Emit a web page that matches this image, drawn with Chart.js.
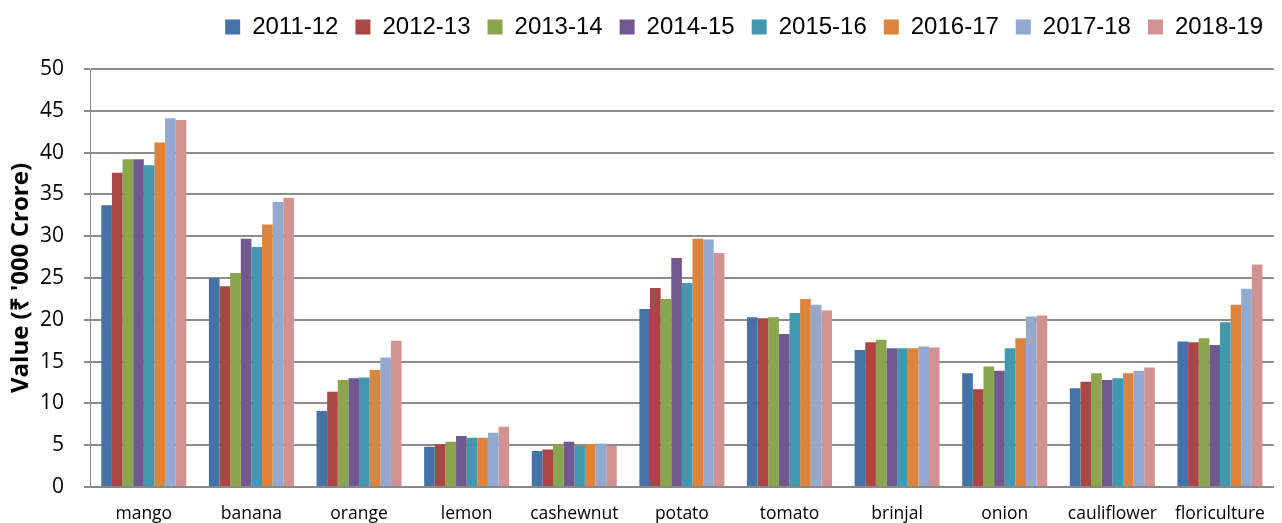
<!DOCTYPE html>
<html>
<head>
<meta charset="utf-8">
<script src="https://cdn.jsdelivr.net/npm/chart.js@4.4.1/dist/chart.umd.min.js"></script>
<style>
  html, body { margin: 0; padding: 0; background: #fff; }
  #wrap { width: 1282px; height: 523px; }
</style>
</head>
<body>
<div id="wrap"><canvas id="chart_1" width="1282" height="523"></canvas></div>
<script>
// categories and years
const crops = ['mango', 'banana', 'orange', 'lemon', 'cashewnut', 'potato', 'tomato', 'brinjal', 'onion', 'cauliflower', 'floriculture'];
const years = ['2011-12', '2012-13', '2013-14', '2014-15', '2015-16', '2016-17', '2017-18', '2018-19'];

// values, '000 crore, one array per year
const v2011 = [33.7, 25.0, 9.1, 4.8, 4.3, 21.3, 20.3, 16.4, 13.6, 11.8, 17.4];
const v2012 = [37.6, 24.0, 11.4, 5.1, 4.5, 23.8, 20.2, 17.3, 11.7, 12.6, 17.3];
const v2013 = [39.2, 25.6, 12.8, 5.4, 5.1, 22.5, 20.3, 17.6, 14.4, 13.6, 17.8];
const v2014 = [39.2, 29.7, 13.0, 6.1, 5.4, 27.4, 18.3, 16.6, 13.9, 12.8, 17.0];
const v2015 = [38.5, 28.7, 13.1, 5.9, 4.9, 24.4, 20.8, 16.6, 16.6, 13.0, 19.7];
const v2016 = [41.2, 31.4, 14.0, 5.9, 5.1, 29.7, 22.5, 16.6, 17.8, 13.6, 21.8];
const v2017 = [44.1, 34.1, 15.5, 6.5, 5.2, 29.6, 21.8, 16.8, 20.4, 13.9, 23.7];
const v2018 = [43.9, 34.6, 17.5, 7.2, 4.9, 28.0, 21.1, 16.7, 20.5, 14.3, 26.6];

const colors = ['#4572A7', '#AA4643', '#89A54E', '#71588F', '#4198AF', '#DB843D', '#93A9CF', '#D19392'];
const series = [v2011, v2012, v2013, v2014, v2015, v2016, v2017, v2018];

const data_1 = {
  labels: crops,
  datasets: series.map((vals, i) => ({
    label: years[i],
    data: vals,
    backgroundColor: colors[i],
    borderWidth: 0,
    barPercentage: 1.0,
    categoryPercentage: 0.79
  }))
};

// extra room under the legend
const legendGap = {
  id: 'legendGap',
  beforeInit(chart) {
    const fit = chart.legend.fit;
    chart.legend.fit = function () {
      fit.bind(chart.legend)();
      this.height += 20;
    };
  }
};

const config_1 = {
  type: 'bar',
  data: data_1,
  plugins: [legendGap],
  options: {
    responsive: false,
    animation: false,
    layout: { padding: { left: 6, right: 2, top: -2, bottom: 0 } },
    plugins: {
      legend: {
        position: 'top',
        align: 'end',
        labels: {
          boxWidth: 15,
          boxHeight: 15,
          padding: 17,
          color: '#000',
          font: { family: "'Liberation Sans', sans-serif", size: 24 }
        }
      },
      tooltip: { enabled: false }
    },
    scales: {
      x: {
        afterFit: (s) => { s.height = 36; },
        grid: { display: false, drawTicks: false },
        border: { color: '#888', width: 2 },
        ticks: {
          color: '#000',
          padding: 17,
          maxRotation: 0,
          autoSkip: false,
          font: { family: "'Open Sans', sans-serif", size: 17.5 }
        }
      },
      y: {
        min: 0,
        max: 50,
        afterFit: (s) => { s.width = 84; },
        ticks: {
          stepSize: 5,
          color: '#000',
          padding: 20,
          font: { family: "'Open Sans', sans-serif", size: 21 }
        },
        grid: { color: '#8c8c8c', lineWidth: 2, tickLength: 6, tickColor: '#8c8c8c' },
        border: { color: '#8c8c8c', width: 1 },
        title: {
          display: true,
          text: "Value (₹ '000 Crore)",
          color: '#000',
          padding: { top: 1, bottom: 0 },
          font: { family: "'Open Sans', sans-serif", size: 24, weight: 'bold' }
        }
      }
    }
  }
};

var chart_1 = new Chart(document.getElementById('chart_1'), config_1);
</script>
</body>
</html>
